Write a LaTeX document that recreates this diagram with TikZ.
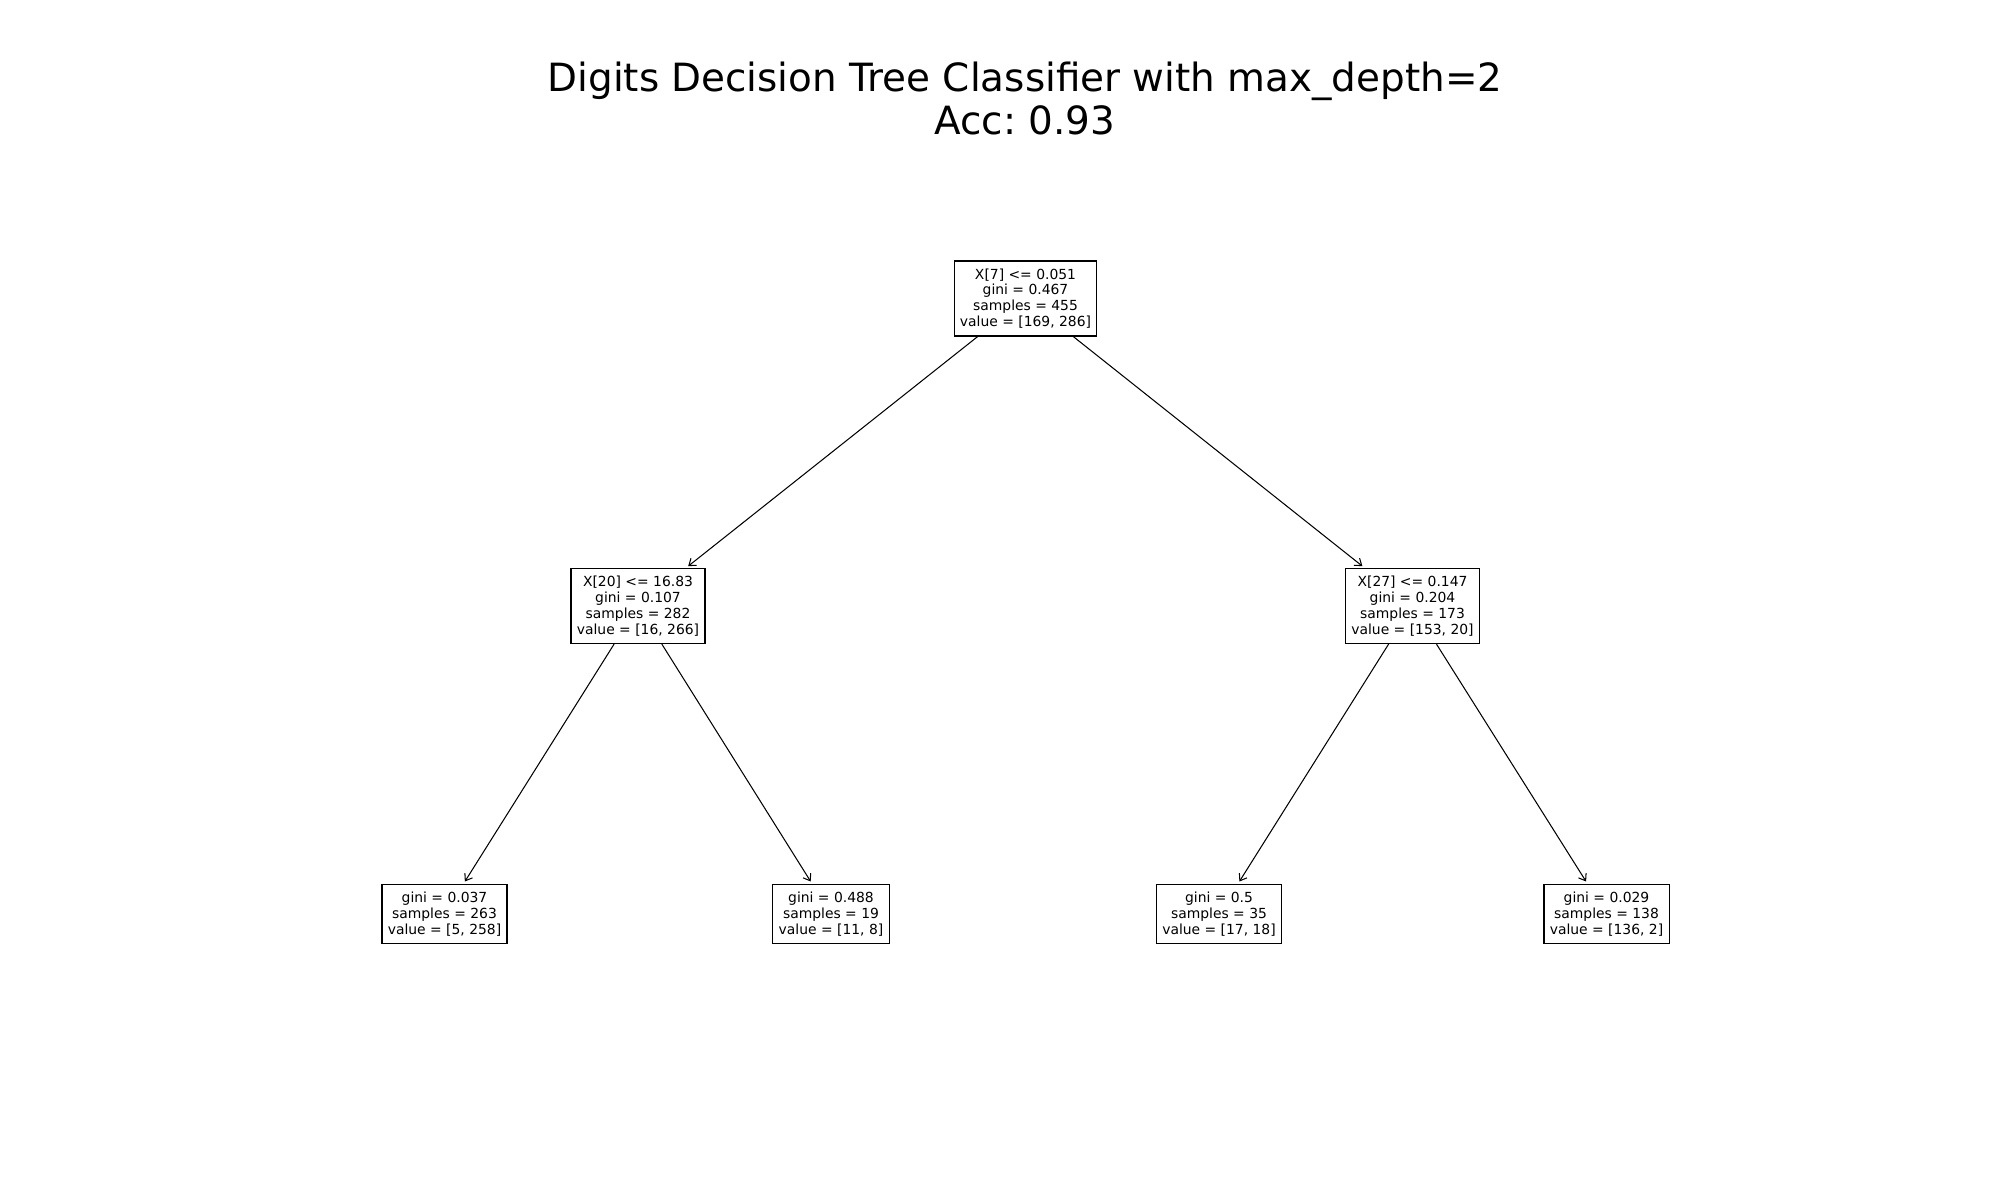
\documentclass[tikz,border=0pt]{standalone}
\usepackage{fontspec}
\setmainfont{DejaVu Sans}
\usetikzlibrary{arrows.meta}
\frenchspacing
\tikzset{
  treenode/.style={draw=black, line width=0.8pt, fill=white, align=center,
    inner xsep=4.2pt, inner ysep=5.4pt,
    font=\fontsize{10}{11.45}\selectfont\frenchspacing},
  edge/.style={line width=0.75pt, draw=black,
    -{Straight Barb[length=4.5pt,width=6.5pt,line width=0.75pt]}, shorten >=2pt},
  titletext/.style={anchor=base, inner sep=0pt, font=\fontsize{28}{34}\selectfont\frenchspacing}
}
\begin{document}
\begin{tikzpicture}[x=0.72pt, y=-0.72pt]
\useasboundingbox (0,0) rectangle (2000,1200);
\node[titletext] (title1) at (1025,92) {Digits Decision Tree Classifier with max\_depth=2};
\node[titletext] (title2) at (1025,135) {Acc: 0.93};

\node[treenode] (root) at (1025.5,298.5) {X[7] <= 0.051\\gini = 0.467\\samples = 455\\value = [169, 286]};
\node[treenode] (l) at (638,606) {X[20] <= 16.83\\gini = 0.107\\samples = 282\\value = [16, 266]};
\node[treenode] (r) at (1412.5,606) {X[27] <= 0.147\\gini = 0.204\\samples = 173\\value = [153, 20]};
\node[treenode] (ll) at (444.5,914) {gini = 0.037\\samples = 263\\value = [5, 258]};
\node[treenode] (lr) at (831,914) {gini = 0.488\\samples = 19\\value = [11, 8]};
\node[treenode] (rl) at (1219,914) {gini = 0.5\\samples = 35\\value = [17, 18]};
\node[treenode] (rr) at (1606.5,914) {gini = 0.029\\samples = 138\\value = [136, 2]};

\draw[edge] (root) -- (l);
\draw[edge] (root) -- (r);
\draw[edge] (l) -- (ll);
\draw[edge] (l) -- (lr);
\draw[edge] (r) -- (rl);
\draw[edge] (r) -- (rr);
\end{tikzpicture}
\end{document}
